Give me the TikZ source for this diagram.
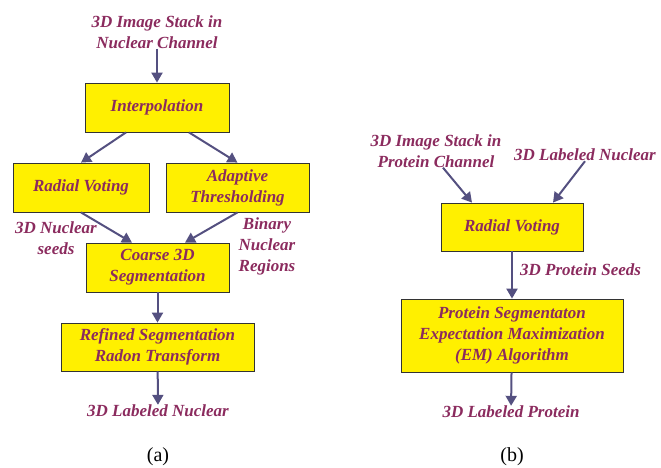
\documentclass[tikz,border=0pt]{standalone}
\usepackage{fontspec}
\setmainfont{Liberation Serif}
\usetikzlibrary{arrows.meta,calc}
\definecolor{labelred}{RGB}{139,43,94}
\definecolor{boxyellow}{RGB}{255,240,0}
\definecolor{flowblue}{RGB}{84,80,128}
\tikzset{
	stepbox/.style={draw=black!80, line width=0.8pt, fill=boxyellow, align=center,
		text=labelred, font=\fontsize{17}{21}\selectfont\bfseries\itshape, inner sep=0pt},
	tag/.style={align=center, text=labelred, font=\fontsize{17}{21}\selectfont\bfseries\itshape, inner sep=0pt},
	flow/.style={draw=flowblue, line width=2pt, -{Triangle[width=11pt,length=10pt]}},
	caption/.style={font=\fontsize{20}{22}\selectfont, inner sep=0pt}
}
\begin{document}
\begin{tikzpicture}[x=1pt, y=-1pt]
	\useasboundingbox (0, 0) rectangle (661, 467);
	% (a) nuclear channel
	\node [tag] (inA) at (157, 32) {3D Image Stack in\\Nuclear Channel};
	\node [stepbox, minimum width=144pt, minimum height=49pt] (interp) at (157, 107.5) {Interpolation};
	\node [stepbox, minimum width=136pt, minimum height=49pt] (rvA) at (81, 187.5) {Radial Voting};
	\node [stepbox, minimum width=143pt, minimum height=49pt] (adapt) at (237.5, 187.5) {Adaptive\\Thresholding};
	\node [stepbox, minimum width=143pt, minimum height=49pt] (coarse) at (157.5, 267.5) {Coarse 3D\\Segmentation};
	\node [stepbox, minimum width=193pt, minimum height=48pt] (refined) at (157.5, 347) {Refined Segmentation\\Radon Transform};
	\node [tag] (seeds) at (56, 238) {3D Nuclear\\seeds};
	\node [tag] (binary) at (267, 246) {Binary\\Nuclear\\Regions};
	\node [tag] (outA) at (158, 411) {3D Labeled Nuclear};
	\node [caption] (capA) at (158, 457) {(a)};
	\draw [flow] (inA) -- (interp);
	\draw [flow] ($(interp.south)+(-31, 0)$) -- (rvA.north);
	\draw [flow] ($(interp.south)+(32, 0)$) -- (adapt.north);
	\draw [flow] (rvA.south) -- ($(coarse.north)+(-25.5, 0)$);
	\draw [flow] (adapt.south) -- ($(coarse.north)+(27.5, 0)$);
	\draw [flow] (coarse) -- (refined);
	\draw [flow] (refined) -- (outA);
	% (b) protein channel
	\node [tag] (inB) at (436, 151) {3D Image Stack in\\Protein Channel};
	\node [tag] (nucB) at (585, 155) {3D Labeled Nuclear};
	\node [stepbox, minimum width=142pt, minimum height=48pt] (rvB) at (512, 227) {Radial Voting};
	\node [stepbox, minimum width=222pt, minimum height=73pt] (protein) at (512, 335.5) {Protein Segmentaton\\Expectation Maximization\\(EM) Algorithm};
	\node [tag, anchor=west] (seedsB) at (520, 270) {3D Protein Seeds};
	\node [tag] (outB) at (511, 412) {3D Labeled Protein};
	\node [caption] (capB) at (512, 457) {(b)};
	\draw [flow] ($(inB.south)+(7, 0)$) -- ($(rvB.north)+(-40, 0)$);
	\draw [flow] (nucB.south) -- ($(rvB.north)+(41, 0)$);
	\draw [flow] (rvB) -- (protein);
	\draw [flow] (protein) -- (outB);
\end{tikzpicture}
\end{document}
